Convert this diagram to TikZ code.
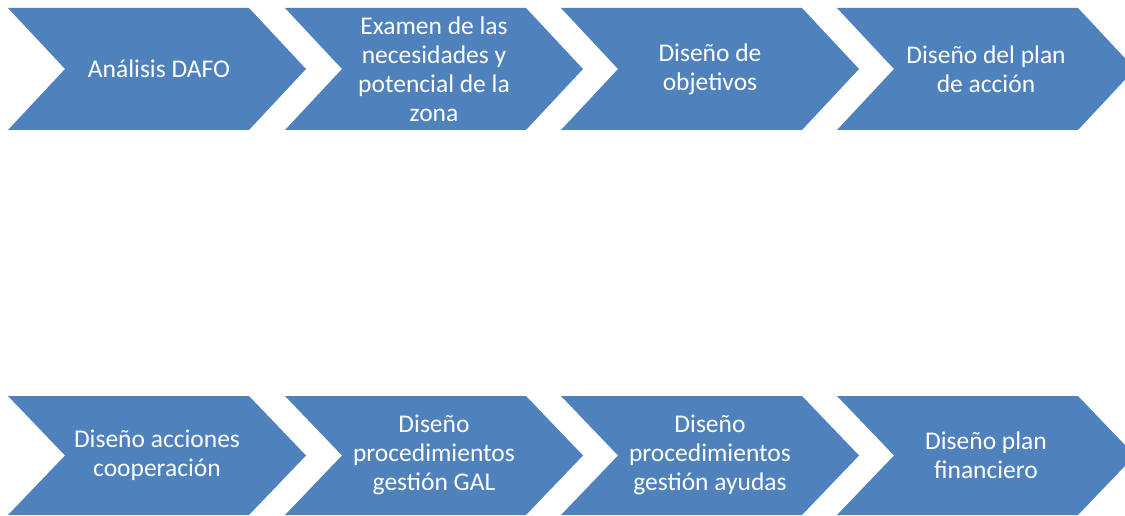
\documentclass[tikz,border=0pt]{standalone}
\usepackage{fontspec}
\setmainfont{Carlito}
\definecolor{chevblue}{HTML}{4F81BD}
\tikzset{
  chevtext/.style={text=white, align=center, font=\fontsize{25.5}{29}\selectfont, inner sep=0pt},
}
\newcommand{\chevron}[3]{% left, top, bottom
  \fill[chevblue] (#1,#2) -- ++(241,0) -- (#1+298,{(#2+#3)/2}) -- (#1+241,#3) -- (#1,#3) -- (#1+57,{(#2+#3)/2}) -- cycle;
}
\begin{document}
\begin{tikzpicture}[x=1pt,y=-1pt]
\useasboundingbox (0,0) rectangle (1125,516);
\clip (0,0) rectangle (1125,516);
\chevron{8}{8}{130}
\chevron{285}{8}{130}
\chevron{561}{8}{130}
\chevron{837}{8}{130}
\chevron{8}{396}{515}
\chevron{285}{396}{515}
\chevron{561}{396}{515}
\chevron{837}{396}{515}
\node[chevtext] (a1) at (159,69) {Análisis DAFO};
\node[chevtext] (a2) at (434,69) {Examen de las\\necesidades y\\potencial de la\\zona};
\node[chevtext] (a3) at (710,69) {Diseño de\\objetivos};
\node[chevtext] (a4) at (986,69) {Diseño del plan\\de acción};
\node[chevtext] (b1) at (157,455) {Diseño acciones\\cooperación};
\node[chevtext] (b2) at (434,455) {Diseño\\procedimientos\\gestión GAL};
\node[chevtext] (b3) at (710,455) {Diseño\\procedimientos\\gestión ayudas};
\node[chevtext] (b4) at (986,455) {Diseño plan\\financiero};
\end{tikzpicture}
\end{document}
